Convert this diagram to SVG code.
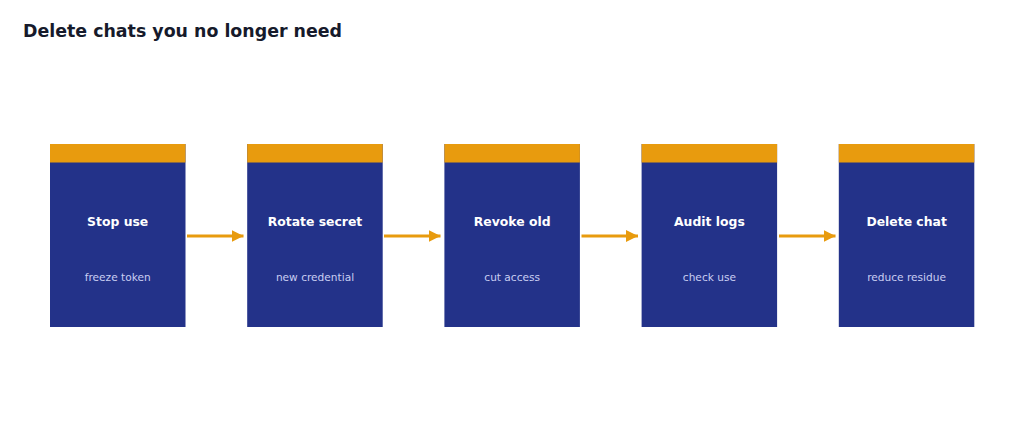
<svg xmlns="http://www.w3.org/2000/svg" width="1024" height="441" viewBox="0 0 1024 441">
<defs>
<style>
.body{fill:#233289;}
.cap{fill:#E89B0E;}
.t{font-family:"DejaVu Sans",sans-serif;font-weight:bold;font-size:12.4px;fill:#ffffff;text-anchor:middle;}
.s{font-family:"DejaVu Sans",sans-serif;font-size:10.6px;fill:#C9CEF2;text-anchor:middle;}
.title{font-family:"DejaVu Sans",sans-serif;font-weight:bold;font-size:17.4px;fill:#161a2b;}
.c{stroke:#E89B0E;stroke-width:3;fill:none;}
</style>
<marker id="ah" viewBox="0 0 10 10" refX="10" refY="5" markerWidth="4" markerHeight="4" markerUnits="strokeWidth" orient="auto">
<path d="M0,0 L10,5 L0,10 z" fill="#E89B0E"/>
</marker>
</defs>
<rect width="1024" height="441" fill="#ffffff"/>
<text class="title" x="23" y="36.5">Delete chats you no longer need</text>
<g id="connectors">
<line class="c" x1="187" y1="236" x2="243.5" y2="236" marker-end="url(#ah)"/>
<line class="c" x1="384" y1="236" x2="440.5" y2="236" marker-end="url(#ah)"/>
<line class="c" x1="581.5" y1="236" x2="638" y2="236" marker-end="url(#ah)"/>
<line class="c" x1="779" y1="236" x2="835.5" y2="236" marker-end="url(#ah)"/>
</g>
<g id="node1">
<rect class="body" x="50" y="144" width="135.5" height="183"/>
<rect class="cap" x="50" y="144" width="135.5" height="18.5"/>
<text class="t" x="117.7" y="226">Stop use</text>
<text class="s" x="117.7" y="280.5">freeze token</text>
</g>
<g id="node2">
<rect class="body" x="247.2" y="144" width="135.5" height="183"/>
<rect class="cap" x="247.2" y="144" width="135.5" height="18.5"/>
<text class="t" x="315" y="226">Rotate secret</text>
<text class="s" x="315" y="280.5">new credential</text>
</g>
<g id="node3">
<rect class="body" x="444.4" y="144" width="135.5" height="183"/>
<rect class="cap" x="444.4" y="144" width="135.5" height="18.5"/>
<text class="t" x="512.2" y="226">Revoke old</text>
<text class="s" x="512.2" y="280.5">cut access</text>
</g>
<g id="node4">
<rect class="body" x="641.6" y="144" width="135.5" height="183"/>
<rect class="cap" x="641.6" y="144" width="135.5" height="18.5"/>
<text class="t" x="709.4" y="226">Audit logs</text>
<text class="s" x="709.4" y="280.5">check use</text>
</g>
<g id="node5">
<rect class="body" x="838.8" y="144" width="135.5" height="183"/>
<rect class="cap" x="838.8" y="144" width="135.5" height="18.5"/>
<text class="t" x="906.6" y="226">Delete chat</text>
<text class="s" x="906.6" y="280.5">reduce residue</text>
</g>
</svg>
